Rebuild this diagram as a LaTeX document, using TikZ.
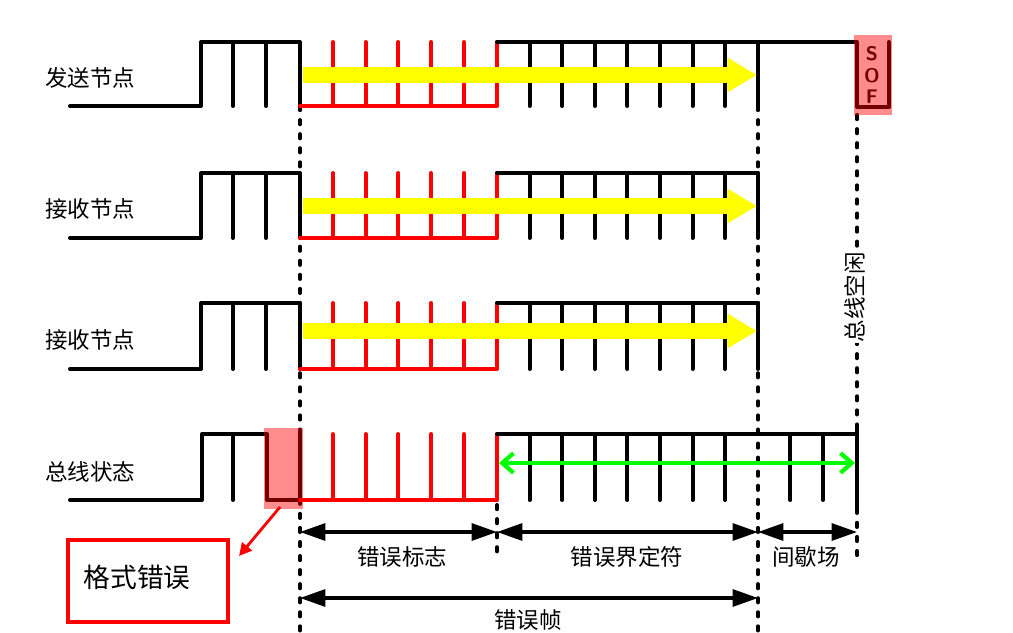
\documentclass[tikz,border=0pt]{standalone}
\usepackage{fontspec}
\newfontfamily\cjk{Noto Sans CJK SC}
\usepackage{tikz}
\usetikzlibrary{arrows.meta, positioning, calc}
\definecolor{ErrRed}{RGB}{255,0,0}
\definecolor{FlagYellow}{RGB}{255,255,0}
\definecolor{IdleGreen}{RGB}{0,255,0}

\begin{document}
\begin{tikzpicture}[x=0.025cm, y=-0.025cm, font=\cjk\fontsize{16}{18}\selectfont,
	sig/.style={line width=2.8pt, line cap=round, line join=round},
	dots/.style={line width=2.8pt, line cap=round, dash pattern=on 3pt off 7pt},
	ya/.style={-{Triangle[length=21pt, width=23pt]}, line width=11.4pt, FlagYellow},
	dim/.style={{Triangle[length=18pt, width=12pt]}-{Triangle[length=18pt, width=12pt]}, line width=2.4pt},
	hl/.style={fill=ErrRed, opacity=0.45},
	errbox/.style={draw=ErrRed, line width=2.2pt, minimum width=4cm, minimum height=2.05cm, inner sep=0pt}]

	\useasboundingbox (0,0) rectangle (1013,632);

	% dotted separators
	\draw[dots] (300,106) -- (300,632);
	\draw[dots] (758,106) -- (758,632);
	\draw[dots] (857,115) -- (857,558);
	\draw[dots] (497,505) -- (497,560);

	% nodes 1-3
	\foreach \r/\hi/\lo in {1/42/106, 2/173/238, 3/303/369}{
		\draw[sig] (70,\lo) -- (201,\lo) -- (201,\hi) -- (300,\hi) -- (300,\lo);
		\foreach \x in {233,266}{\draw[sig] (\x,\hi) -- (\x,\lo);}
		\draw[sig, ErrRed] (300,\lo) -- (497,\lo) -- (497,\hi);
		\foreach \i in {1,...,5}{\draw[sig, ErrRed] ({300+32.8*\i},\hi) -- ({300+32.8*\i},\lo);}
		\draw[sig] (497,\hi) -- (758,\hi);
		\foreach \i in {1,...,8}{\draw[sig] ({497+32.6*\i},\hi) -- ({497+32.6*\i},\lo);}
	}
	\draw[sig] (758,42) -- (857,42) -- (857,107) -- (889,107) -- (889,42);
	\node[font=\sffamily\bfseries\fontsize{14}{15.6}\selectfont, align=center, inner sep=0pt] (sof) at (872,75) {S\\O\\F};

	% bus state
	\draw[sig] (70,500) -- (202,500) -- (202,434) -- (267,434) -- (267,500) -- (300,500) -- (300,434);
	\draw[sig] (233,434) -- (233,500);
	\draw[sig, ErrRed] (300,500) -- (497,500) -- (497,434);
	\foreach \i in {1,...,5}{\draw[sig, ErrRed] ({300+32.8*\i},434) -- ({300+32.8*\i},500);}
	\draw[sig] (497,434) -- (857,434);
	\foreach \i in {1,...,7,9,10}{\draw[sig] ({497+32.6*\i},434) -- ({497+32.6*\i},500);}
	\draw[sig] (857,430) -- (857,507);

	% yellow arrows
	\foreach \r/\y in {1/75, 2/206, 3/331}{
		\coordinate (ys\r) at (303,\y);
		\coordinate (ye\r) at (757,\y);
		\draw[ya] (ys\r) -- (ye\r);
	}

	% green arrow
	\coordinate (gl) at (499,463);
	\coordinate (gr) at (855,463);
	\draw[{Straight Barb[length=8pt, width=14pt]}-{Straight Barb[length=8pt, width=14pt]}, line width=3pt, line cap=round, IdleGreen] (gl) -- (gr);

	% highlights
	\fill[hl] (854,35) rectangle (892,115);
	\fill[hl] (264,428) rectangle (303,509);

	% row labels
	\node (lab1) at (90,78) {发送节点};
	\node (lab2) at (90,209) {接收节点};
	\node (lab3) at (90,340) {接收节点};
	\node (lab4) at (90,472) {总线状态};
	\node[rotate=90, fill=white, inner sep=1pt] (idle) at (855,297) {总线空闲};

	% dimensions
	\coordinate (m0) at (300,532);
	\coordinate (m1) at (497,532);
	\coordinate (m2) at (758,532);
	\coordinate (m3) at (857,532);
	\coordinate (f0) at (300,598);
	\coordinate (f1) at (758,598);
	\draw[dim] (m0) -- (m1);
	\draw[dim] (m1) -- (m2);
	\draw[dim] (m2) -- (m3);
	\draw[dim] (f0) -- (f1);
	\node (flag) at (402,557) {错误标志};
	\node (delim) at (627,557) {错误界定符};
	\node (ifs) at (806,557) {间歇场};
	\node (frame) at (528,620) {错误帧};

	% format error
	\node[errbox] (fmt) at (148,581) {};
	\node[font=\cjk\fontsize{19}{21}\selectfont] (fmtl) at (137,577) {格式错误};
	\coordinate (ea) at (280,507);
	\coordinate (eb) at (239,556);
	\draw[-{Triangle[length=9pt, width=9pt]}, line width=2pt, ErrRed] (ea) -- (eb);
\end{tikzpicture}
\end{document}
